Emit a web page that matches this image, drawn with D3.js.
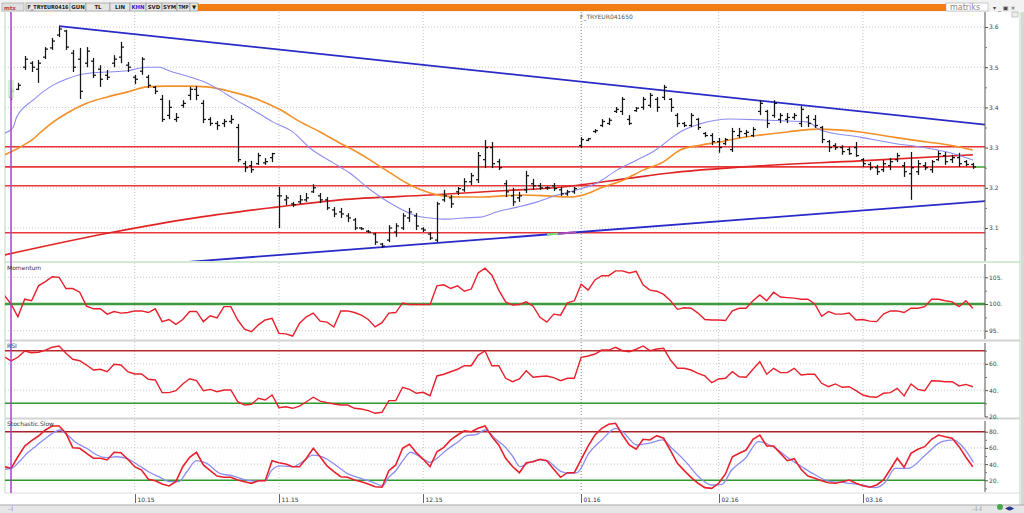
<!DOCTYPE html>
<html><head><meta charset="utf-8">
<script src="https://cdn.jsdelivr.net/npm/d3@7"></script>
<style>
body{margin:0;background:#fff}
svg{display:block}
text{font-family:"DejaVu Sans",Verdana,sans-serif}
</style></head>
<body><svg id="c" width="1024" height="513"></svg>
<script>
// ---------- DATA ----------
const barHigh = [3.448,3.461,3.528,3.515,3.518,3.550,3.573,3.602,3.593,3.543,
3.548,3.550,3.523,3.505,3.493,3.530,3.563,3.513,3.481,3.525,
3.481,3.453,3.431,3.418,3.386,3.418,3.451,3.453,3.418,3.376,
3.366,3.371,3.381,3.359,3.267,3.267,3.287,3.274,3.287,3.202,
3.182,3.165,3.182,3.187,3.209,3.187,3.177,3.152,3.150,3.137,
3.125,3.102,3.095,3.088,3.063,3.107,3.112,3.137,3.150,3.137,
3.102,3.090,3.165,3.195,3.182,3.202,3.224,3.237,3.289,3.319,
3.314,3.272,3.219,3.200,3.190,3.242,3.222,3.212,3.204,3.212,
3.202,3.195,3.202,3.326,3.324,3.346,3.371,3.374,3.401,3.426,
3.381,3.401,3.426,3.436,3.426,3.456,3.423,3.386,3.364,3.386,
3.374,3.339,3.336,3.324,3.324,3.349,3.349,3.344,3.351,3.418,
3.394,3.418,3.386,3.386,3.386,3.403,3.381,3.381,3.354,3.319,
3.311,3.306,3.301,3.314,3.274,3.264,3.257,3.269,3.274,3.287,
3.264,3.289,3.269,3.264,3.269,3.292,3.289,3.282,3.287,3.269,
3.262];
const barLow = [3.418,3.443,3.493,3.488,3.461,3.520,3.543,3.575,3.543,3.488,
3.421,3.500,3.473,3.451,3.468,3.500,3.510,3.488,3.458,3.481,
3.448,3.433,3.364,3.371,3.364,3.399,3.418,3.418,3.361,3.354,
3.344,3.351,3.359,3.264,3.239,3.237,3.257,3.257,3.264,3.100,
3.157,3.152,3.160,3.165,3.187,3.162,3.145,3.127,3.125,3.115,
3.095,3.095,3.088,3.058,3.050,3.065,3.078,3.095,3.115,3.095,
3.090,3.070,3.065,3.165,3.150,3.182,3.190,3.207,3.212,3.249,
3.249,3.244,3.177,3.155,3.165,3.187,3.195,3.195,3.195,3.192,
3.180,3.180,3.185,3.299,3.316,3.336,3.351,3.356,3.386,3.381,
3.356,3.389,3.394,3.399,3.389,3.418,3.389,3.351,3.351,3.351,
3.344,3.326,3.306,3.287,3.306,3.289,3.324,3.326,3.326,3.381,
3.349,3.374,3.361,3.361,3.369,3.351,3.351,3.349,3.311,3.289,
3.294,3.282,3.282,3.277,3.252,3.244,3.232,3.239,3.244,3.264,
3.227,3.170,3.232,3.244,3.237,3.267,3.257,3.262,3.252,3.254,
3.247];
const barOpen = [3.425,3.445,3.500,3.510,3.495,3.525,3.548,3.580,3.590,3.535,
3.520,3.510,3.515,3.495,3.480,3.510,3.525,3.505,3.475,3.490,
3.475,3.450,3.420,3.380,3.370,3.405,3.430,3.445,3.410,3.370,
3.360,3.360,3.365,3.350,3.260,3.255,3.260,3.262,3.275,3.180,
3.170,3.160,3.165,3.170,3.190,3.180,3.170,3.145,3.140,3.130,
3.120,3.100,3.092,3.085,3.060,3.070,3.090,3.100,3.125,3.130,
3.098,3.085,3.070,3.170,3.175,3.190,3.195,3.215,3.220,3.270,
3.300,3.265,3.210,3.180,3.175,3.195,3.210,3.205,3.200,3.205,
3.195,3.185,3.190,3.305,3.318,3.340,3.355,3.360,3.390,3.390,
3.370,3.392,3.400,3.405,3.420,3.425,3.420,3.380,3.360,3.355,
3.370,3.335,3.330,3.315,3.310,3.295,3.330,3.335,3.330,3.390,
3.390,3.380,3.370,3.370,3.375,3.360,3.375,3.370,3.350,3.315,
3.305,3.300,3.295,3.300,3.270,3.258,3.250,3.245,3.255,3.270,
3.255,3.235,3.240,3.255,3.245,3.270,3.280,3.270,3.275,3.265,
3.258];
const barClose = [3.440,3.455,3.520,3.500,3.510,3.545,3.565,3.595,3.550,3.500,
3.440,3.540,3.480,3.470,3.475,3.520,3.550,3.500,3.470,3.520,
3.455,3.440,3.370,3.400,3.375,3.410,3.445,3.430,3.370,3.360,
3.355,3.365,3.370,3.270,3.250,3.245,3.280,3.265,3.285,3.180,
3.175,3.158,3.170,3.175,3.200,3.170,3.150,3.135,3.135,3.125,
3.100,3.098,3.090,3.065,3.055,3.100,3.105,3.130,3.140,3.105,
3.095,3.075,3.160,3.180,3.160,3.198,3.215,3.230,3.280,3.300,
3.260,3.250,3.190,3.165,3.180,3.230,3.205,3.200,3.200,3.198,
3.185,3.190,3.198,3.320,3.322,3.342,3.365,3.368,3.395,3.420,
3.360,3.398,3.420,3.430,3.400,3.450,3.400,3.360,3.355,3.380,
3.350,3.330,3.315,3.300,3.320,3.340,3.340,3.338,3.345,3.410,
3.360,3.410,3.380,3.375,3.380,3.395,3.360,3.355,3.320,3.300,
3.300,3.290,3.285,3.280,3.260,3.250,3.240,3.260,3.265,3.280,
3.240,3.250,3.260,3.250,3.265,3.285,3.265,3.275,3.260,3.258,
3.252];

// moving averages: [bar index, price]
const maShort = [[-0.9,3.336],[0.3,3.350],[0.83,3.376],[3.2,3.418],[5.7,3.451],[8.2,3.471],[10,3.481],[11.9,3.486],[14,3.488],[16.9,3.491],[18.8,3.498],[19.8,3.500],[21.7,3.500],[22.7,3.493],[25.6,3.478],[28.5,3.461],[30.4,3.443],[32.3,3.423],[35.2,3.394],[38.1,3.364],[41,3.339],[43.5,3.299],[46.9,3.262],[49.3,3.237],[52.3,3.195],[56.2,3.152],[59.1,3.130],[61,3.125],[63.5,3.122],[65.8,3.125],[68.3,3.127],[70.7,3.140],[73.7,3.152],[76.6,3.165],[79.5,3.182],[82.4,3.195],[85.3,3.212],[88.2,3.244],[91.1,3.269],[94,3.296],[95.9,3.321],[97.4,3.339],[100.3,3.359],[104.7,3.371],[109,3.369],[113,3.366],[115.9,3.364],[117.8,3.344],[123.6,3.326],[128.4,3.311],[133.3,3.299],[136.7,3.287],[140,3.269]];
const maMid = [[-0.9,3.282],[1.3,3.301],[3.2,3.321],[4.5,3.341],[5.7,3.358],[8.2,3.386],[11.1,3.411],[14,3.426],[16.9,3.438],[19.8,3.451],[22.7,3.453],[25.6,3.453],[28.5,3.451],[32.3,3.438],[36.2,3.418],[39.2,3.394],[42.1,3.364],[45,3.339],[47.9,3.311],[49.3,3.299],[52.3,3.269],[55.2,3.237],[58.1,3.207],[61,3.187],[62.9,3.180],[65.8,3.177],[68.7,3.177],[71.6,3.180],[74.5,3.182],[78,3.180],[81.4,3.177],[83.3,3.182],[86.2,3.202],[89.1,3.219],[92,3.244],[94.9,3.264],[97.4,3.294],[100.3,3.306],[103.2,3.314],[106.1,3.324],[109,3.331],[113,3.339],[117.3,3.346],[123.6,3.339],[128.4,3.326],[133.3,3.314],[136.7,3.306],[140,3.294]];
const maLong = [[-0.9,3.033],[14.4,3.088],[27.5,3.127],[38.7,3.152],[47.9,3.170],[61,3.182],[70.7,3.192],[80.3,3.202],[90.1,3.224],[95.9,3.237],[106.6,3.252],[123.6,3.267],[140,3.282]];

const levels = [3.302,3.252,3.205,3.088];
const trendUpper = [[7,3.602],[141.8,3.357]];
const trendLower = [[25.3,3.015],[141.8,3.167]];

// indicators, first value belongs to bar index -1
const indStart = -1;
const momentum = [101.7,100.0,97.6,100.9,100.6,103.4,104.2,105.1,105.0,102.9,102.9,
102.2,99.6,99.1,99.1,98.1,98.6,98.3,98.4,98.7,98.7,
98.4,99.1,96.7,97.1,96.2,97.1,98.6,98.6,96.7,97.8,
97.4,99.5,99.5,97.0,95.3,94.8,96.1,97.0,97.3,94.5,
94.4,94.0,96.4,97.6,98.3,96.8,96.6,95.7,98.7,98.7,
98.4,97.9,97.1,95.7,96.5,98.3,98.4,100.2,99.9,99.9,
99.9,99.9,103.4,103.6,102.9,103.4,102.4,102.8,105.8,106.7,
105.4,102.6,100.4,99.8,99.9,100.4,99.6,97.5,96.6,98.1,
97.9,100.2,100.6,103.7,102.6,104.5,105.3,105.3,106.2,106.2,
105.8,106.1,103.6,102.6,102.4,101.8,100.6,99.0,99.3,99.2,
98.3,97.1,97.0,97.0,96.9,98.7,99.2,99.2,100.6,101.7,
100.6,102.2,101.3,101.2,101.1,100.9,100.9,100.0,97.7,98.6,
98.1,98.1,98.3,97.0,97.1,96.8,96.7,98.1,98.7,98.7,
98.4,99.2,99.2,99.5,100.9,100.9,100.6,100.4,99.5,100.6,
99.2];
const rsi = [65.4,62.2,65.0,69.8,68.5,68.8,70.5,72.6,73.6,68.0,63.5,
62.4,59.1,55.3,55.9,54.0,59.7,59.1,54.0,52.3,52.3,
48.3,47.7,38.1,38.1,39.6,44.7,48.7,47.2,39.6,40.6,
38.8,40.1,40.1,31.2,28.7,29.2,33.8,32.5,36.3,26.7,
27.4,26.2,27.9,31.2,34.6,31.7,30.5,29.5,28.7,28.7,
26.2,25.7,24.4,22.4,23.2,32.0,32.0,42.2,40.6,37.6,
38.4,35.8,50.8,52.1,54.0,55.9,58.6,58.6,66.7,69.8,
58.6,58.6,49.0,46.4,48.5,54.8,49.8,50.4,50.8,49.5,
47.2,49.0,49.0,65.0,66.0,67.5,70.5,70.5,72.6,70.0,
69.2,71.1,73.6,70.0,71.3,71.8,62.9,56.6,56.6,55.3,
52.8,50.8,45.7,48.5,49.0,54.0,50.2,49.8,55.9,61.6,
52.1,56.6,53.3,53.3,56.6,51.5,52.1,52.1,45.2,42.6,
44.7,42.2,42.6,39.6,36.3,35.0,34.6,37.6,38.1,41.4,
35.6,44.7,40.6,39.6,47.2,47.0,46.4,46.4,43.2,44.4,
42.6];
const stochK = [36.8,34.8,49.1,62.3,68.9,74.7,82.1,87.0,87.0,78.0,60.2,
59.5,53.3,47.2,47.2,45.1,54.6,54.1,45.9,36.8,32.7,
21.2,19.5,15.4,13.0,18.3,36.8,48.4,54.6,38.9,31.9,
25.3,23.7,23.7,20.4,18.3,16.3,19.5,19.5,44.2,41.7,
40.1,36.8,36.8,47.2,59.5,49.1,37.7,30.6,24.4,23.7,
20.4,18.3,15.4,12.1,11.4,31.9,38.9,59.5,64.4,54.1,
45.9,36.8,55.3,60.7,69.8,75.9,81.2,80.0,84.2,87.0,
73.8,63.6,47.2,37.0,29.4,41.7,43.0,45.9,44.2,33.6,
23.7,29.4,29.4,45.9,62.3,75.9,84.2,89.1,90.4,75.9,
63.6,58.3,70.6,69.8,75.1,71.9,56.5,41.0,31.9,23.7,
16.3,10.9,10.1,16.3,27.8,49.1,53.3,57.4,70.6,75.9,
62.3,62.3,53.3,44.2,46.7,33.6,25.3,22.5,19.5,17.0,
16.3,18.3,20.4,16.3,13.3,11.4,14.2,20.4,33.6,47.2,
36.0,53.3,58.3,61.5,70.6,75.9,73.8,71.9,61.5,48.4,
36.8];
const stochD = [[-0.9,33.6],[0.1,34.8],[1.3,43.8],[2.5,54.6],[3.7,62.7],[4.9,71.0],[6.2,78.8],[7.1,82.1],[8.1,76.8],[9.3,67.7],[11,59.5],[12.5,51.2],[13.9,47.9],[15.4,49.1],[16.8,47.2],[18.8,37.3],[20,30.6],[21.7,23.7],[23.1,18.3],[24.4,18.3],[25.6,30.6],[27,44.2],[28.5,41.0],[30.4,28.6],[32.4,25.3],[34.1,20.4],[35.3,19.1],[37,19.5],[37.9,31.9],[39.2,37.7],[41.1,36.8],[42.1,41.0],[44,51.2],[45.5,48.4],[46.9,41.0],[48.9,28.6],[50.8,22.8],[52.7,17.5],[54.1,13.3],[54.9,22.8],[56.1,32.7],[57.1,45.1],[58.2,54.6],[59.5,49.1],[61,42.2],[62,47.2],[63.4,57.4],[65.1,67.7],[66.3,75.1],[67.8,76.8],[69,82.1],[70.7,69.8],[71.9,61.5],[73,50],[74.1,36.8],[75.4,41.7],[76.8,45.1],[78,44.2],[80.1,30.6],[81.4,28.6],[82.4,29.4],[84.1,53.3],[86,69.8],[88,84.2],[89,80.0],[91.1,63.6],[92.8,65.7],[94.8,69.8],[96.2,59.5],[98.2,43.0],[100.1,24.4],[102,14.2],[103.5,15.1],[104.9,32.7],[106.9,47.2],[108.8,67.7],[111.3,59.5],[113.2,47.2],[115.1,36.8],[117.1,26.5],[119,19.1],[121.4,17.0],[123.9,14.2],[125.8,10.9],[127.3,18.3],[128.7,34.8],[130.6,34.8],[133.1,51.2],[135.5,67.7],[137.2,69.8],[138.2,64.4],[140.1,42.2]];

const monthIdx = [18,39,60,83,103,124];
const monthLabels = ["10.15","11.15","12.15","01.16","02.16","03.16"];
const mainTicks = [3.1,3.2,3.3,3.4,3.5,3.6];
const momTicks = [95,100,105];
const rsiTicks = [20,40,60];
const stoTicks = [20,40,60,80];
const toolButtons = ["F_TRYEUR0416","GUN","TL","LIN","KHN","SVD","SYM","TMP","\u25BC"];

// ---------- LAYOUT ----------
const svg = d3.select("#c");
const L = 5, R = 985;
const x = d3.scaleLinear().domain([0,140]).range([11,972.8]);
const yMain = d3.scaleLinear().domain([3.1,3.6]).range([228,27]);
const yMom = d3.scaleLinear().domain([95,105]).range([330.7,277.3]);
const yRsi = d3.scaleLinear().domain([30,70]).range([403.3,350.7]);
const ySto = d3.scaleLinear().domain([20,80]).range([480.3,431.7]);
const panels = {
  main:{top:12,bottom:261},
  mom:{top:263,bottom:339},
  rsi:{top:342,bottom:417},
  sto:{top:420,bottom:492}
};
const defs = svg.append("defs");
Object.entries(panels).forEach(([k,p])=>{
  defs.append("clipPath").attr("id","clip-"+k).append("rect")
    .attr("x",L).attr("y",p.top).attr("width",R-L).attr("height",p.bottom-p.top);
});

svg.append("rect").attr("width",1024).attr("height",513).attr("fill","#fff");

// frame lines
svg.append("line").attr("x1",L).attr("x2",L).attr("y1",12).attr("y2",493).attr("stroke","#b9dcb9");
svg.append("line").attr("x1",1020).attr("x2",1020).attr("y1",12).attr("y2",505).attr("stroke","#b9dcb9");
svg.append("rect").attr("x",1021).attr("y",0).attr("width",3).attr("height",513).attr("fill","#d8d8d8");
svg.append("line").attr("x1",L).attr("x2",1020).attr("y1",262).attr("y2",262).attr("stroke","#a9d4a9");
[340.5,418.5].forEach(yy=>svg.append("line").attr("x1",L).attr("x2",1020).attr("y1",yy).attr("y2",yy).attr("stroke","#d4d4d4").attr("stroke-width",2));
svg.append("line").attr("x1",L).attr("x2",1020).attr("y1",493).attr("y2",493).attr("stroke","#dcdcdc");

// grid
Object.entries(panels).forEach(([k,p])=>{
  const g = svg.append("g");
  monthIdx.forEach((mi,j)=>{
    g.append("line").attr("x1",x(mi)).attr("x2",x(mi)).attr("y1",p.top).attr("y2",p.bottom)
      .attr("stroke", j===3 ? "#808080" : "#c4c4c4").attr("stroke-dasharray","1,2");
  });
});
function hgrid(vals, sc){
  vals.forEach(v=>svg.append("line").attr("x1",L).attr("x2",R).attr("y1",sc(v)).attr("y2",sc(v))
    .attr("stroke","#c8c8c8").attr("stroke-dasharray","1,2"));
}
hgrid(mainTicks, yMain);
hgrid([95,105], yMom);
hgrid([40,60], yRsi);
hgrid([40,60], ySto);

// ---------- MAIN PANEL ----------
const gm = svg.append("g").attr("clip-path","url(#clip-main)");
levels.forEach(v=>gm.append("line").attr("x1",L).attr("x2",R).attr("y1",yMain(v)).attr("y2",yMain(v))
  .attr("stroke","#e8383a").attr("stroke-width",1.6));
gm.append("line").attr("x1",x(140)).attr("x2",R).attr("y1",yMain(levels[1])).attr("y2",yMain(levels[1]))
  .attr("stroke","#5cc85c").attr("stroke-width",1.8);

const lineP = d3.line().x(d=>x(d[0])).y(d=>yMain(d[1])).curve(d3.curveMonotoneX);
gm.append("path").attr("d",lineP(maLong)).attr("fill","none").attr("stroke","#e02424").attr("stroke-width",1.6);
gm.append("path").attr("d",lineP(maMid)).attr("fill","none").attr("stroke","#f39028").attr("stroke-width",1.6);
gm.append("path").attr("d",lineP(maShort)).attr("fill","none").attr("stroke","#8c8cf2").attr("stroke-width",1.1);

const lineT = d3.line().x(d=>x(d[0])).y(d=>yMain(d[1]));
gm.append("path").attr("d",lineT(trendUpper)).attr("fill","none").attr("stroke","#2a2ac8").attr("stroke-width",1.8);
gm.append("path").attr("d",lineT(trendLower)).attr("fill","none").attr("stroke","#2a2ac8").attr("stroke-width",1.8);
defs.append("clipPath").attr("id","hlA").append("rect").attr("x",547).attr("y",12).attr("width",11).attr("height",250);
defs.append("clipPath").attr("id","hlB").append("rect").attr("x",558).attr("y",12).attr("width",18).attr("height",250);
gm.append("path").attr("d",lineT(trendLower)).attr("fill","none").attr("stroke","#7be07b").attr("stroke-width",2).attr("clip-path","url(#hlA)");
gm.append("path").attr("d",lineT(trendLower)).attr("fill","none").attr("stroke","#b04cb8").attr("stroke-width",2).attr("clip-path","url(#hlB)");

// OHLC bars
const bars = gm.append("g").attr("stroke","#151515").attr("stroke-width",1.25);
barHigh.forEach((h,i)=>{
  const cx = Math.round(x(i))+0.5;
  bars.append("line").attr("x1",cx).attr("x2",cx).attr("y1",yMain(h)).attr("y2",yMain(barLow[i]));
  bars.append("line").attr("x1",cx-2.5).attr("x2",cx).attr("y1",yMain(barOpen[i])).attr("y2",yMain(barOpen[i]));
  bars.append("line").attr("x1",cx).attr("x2",cx+2.5).attr("y1",yMain(barClose[i])).attr("y2",yMain(barClose[i]));
});
gm.append("rect").attr("x",8).attr("y",80).attr("width",6).attr("height",18).attr("fill","#c6f0c0").attr("opacity",0.8);

// ---------- INDICATORS ----------
function indLine(g, arr, sc, color, w){
  const ln = d3.line().x((d,j)=>x(j+indStart)).y(d=>sc(d));
  g.append("path").attr("d",ln(arr)).attr("fill","none").attr("stroke",color).attr("stroke-width",w);
}
const gmo = svg.append("g").attr("clip-path","url(#clip-mom)");
gmo.append("line").attr("x1",L).attr("x2",R).attr("y1",yMom(100)).attr("y2",yMom(100)).attr("stroke","#3f9a3f").attr("stroke-width",2.4);
indLine(gmo, momentum, yMom, "#e8202c", 1.4);

const gr = svg.append("g").attr("clip-path","url(#clip-rsi)");
gr.append("line").attr("x1",L).attr("x2",R).attr("y1",yRsi(70)).attr("y2",yRsi(70)).attr("stroke","#b82828").attr("stroke-width",1.4);
gr.append("line").attr("x1",L).attr("x2",R).attr("y1",yRsi(30)).attr("y2",yRsi(30)).attr("stroke","#2c9a2c").attr("stroke-width",1.4);
indLine(gr, rsi, yRsi, "#e8202c", 1.4);

const gs = svg.append("g").attr("clip-path","url(#clip-sto)");
gs.append("line").attr("x1",L).attr("x2",R).attr("y1",ySto(80)).attr("y2",ySto(80)).attr("stroke","#a82424").attr("stroke-width",1.4);
gs.append("line").attr("x1",L).attr("x2",R).attr("y1",ySto(20)).attr("y2",ySto(20)).attr("stroke","#2c9a2c").attr("stroke-width",1.4);
gs.append("path").attr("d",d3.line().x(d=>x(d[0])).y(d=>ySto(d[1])).curve(d3.curveMonotoneX)(stochD))
  .attr("fill","none").attr("stroke","#8c8cf2").attr("stroke-width",1.3);
indLine(gs, stochK, ySto, "#e8202c", 1.6);

// cursor line
svg.append("line").attr("x1",x(0)).attr("x2",x(0)).attr("y1",12).attr("y2",493).attr("stroke","#a443c8").attr("stroke-width",1.5);

// panel titles
[["Momentum",270],["RSI",348],["Stochastic.Slow",426]].forEach(([t,yy])=>
  svg.append("text").attr("x",7).attr("y",yy).attr("font-size",6).attr("fill","#333").text(t));
svg.append("text").attr("x",580).attr("y",19).attr("font-size",6).attr("fill","#555").text("F_TRYEUR041650");

// ---------- AXES ----------
function rightAxis(sc, vals, minor, fmt, top, bottom){
  svg.append("line").attr("x1",R).attr("x2",R).attr("y1",top).attr("y2",bottom).attr("stroke","#555");
  const g = svg.append("g").attr("transform",`translate(${R},0)`)
    .call(d3.axisRight(sc).tickValues(vals).tickFormat(fmt).tickSize(3).tickPadding(1));
  g.select(".domain").remove();
  g.selectAll("line").attr("stroke","#555");
  g.selectAll("text").attr("font-size",6).attr("fill","#444").attr("font-family","DejaVu Sans");
  const gm2 = svg.append("g").attr("transform",`translate(${R},0)`)
    .call(d3.axisRight(sc).tickValues(minor).tickFormat("").tickSize(2));
  gm2.select(".domain").remove();
  gm2.selectAll("line").attr("stroke","#777");
}
rightAxis(yMain, mainTicks, [3.05,3.15,3.25,3.35,3.45,3.55], d=>d.toFixed(1), 12, 261);
rightAxis(yMom, momTicks, [97.5,102.5], d=>d+".", 264, 339);
rightAxis(yRsi, rsiTicks, [30,50,70], d=>d+".", 343, 417);
rightAxis(ySto, stoTicks, [10,30,50,70], d=>d+".", 421, 492);

// bottom time labels
monthIdx.forEach((mi,j)=>{
  const xx = Math.round(x(mi))+0.5;
  svg.append("line").attr("x1",xx).attr("x2",xx).attr("y1",494).attr("y2",503).attr("stroke","#666");
  svg.append("text").attr("x",xx+2).attr("y",502).attr("font-size",6).attr("fill","#333").text(monthLabels[j]);
});

// status bar
svg.append("rect").attr("x",0).attr("y",505).attr("width",1024).attr("height",8).attr("fill","#e6e6e6");
svg.append("line").attr("x1",0).attr("x2",1024).attr("y1",505).attr("y2",505).attr("stroke","#a8a8a8");
svg.append("text").attr("x",8).attr("y",510).attr("font-size",5).attr("fill","#555").text("..|");
svg.append("text").attr("x",972).attr("y",510).attr("font-size",5).attr("fill","#555").text("..|..|");
svg.append("circle").attr("cx",1000).attr("cy",507).attr("r",3).attr("fill","#4aa84a");
svg.append("text").attr("x",1005).attr("y",510).attr("font-size",6).attr("fill","#2a2a8a").text("\u25C0\u25B6");

// ---------- TOOLBAR ----------
svg.append("rect").attr("x",0).attr("y",0).attr("width",1024).attr("height",12).attr("fill","#f2f2f2");
svg.append("rect").attr("x",2).attr("y",3).attr("width",22).attr("height",8).attr("fill","#e0e0e0").attr("stroke","#999").attr("stroke-width",0.6);
svg.append("text").attr("x",4).attr("y",9.5).attr("font-size",5.5).attr("fill","#c04040").attr("font-weight","bold").text("mtx");
const btnX = [26,70,86,110,130,146,162,177,190,198];
toolButtons.forEach((t,j)=>{
  const w = btnX[j+1]-btnX[j];
  svg.append("rect").attr("x",btnX[j]).attr("y",3).attr("width",w).attr("height",8)
    .attr("fill","#e6e6e6").attr("stroke","#8a8a8a").attr("stroke-width",0.6);
  const tx = svg.append("text").attr("x",(btnX[j]+btnX[j+1])/2).attr("y",9.4).attr("text-anchor","middle")
    .attr("font-size",5.4).attr("font-weight","bold").attr("fill", t==="KHN" ? "#2a2ad0" : "#222").text(t);
  const need = t.length*4.2;
  if (need > w-2) tx.attr("textLength", w-3).attr("lengthAdjust","spacingAndGlyphs");
});
svg.append("rect").attr("x",198).attr("y",4).attr("width",748).attr("height",7).attr("fill","#f07c12");
svg.append("rect").attr("x",946).attr("y",3).attr("width",42).attr("height",8).attr("fill","#fff").attr("stroke","#aaa").attr("stroke-width",0.6);
svg.append("text").attr("x",950).attr("y",10).attr("font-size",8).attr("fill","#8a8a8a").text("matriks");
svg.append("text").attr("x",993).attr("y",10).attr("font-size",6).attr("fill","#444").text("\u25BE _ \u25A3 \u00D7");
svg.append("rect").attr("x",1012).attr("y",12).attr("width",6).attr("height",5).attr("fill","#eee").attr("stroke","#999").attr("stroke-width",0.5);
</script>
</body></html>
